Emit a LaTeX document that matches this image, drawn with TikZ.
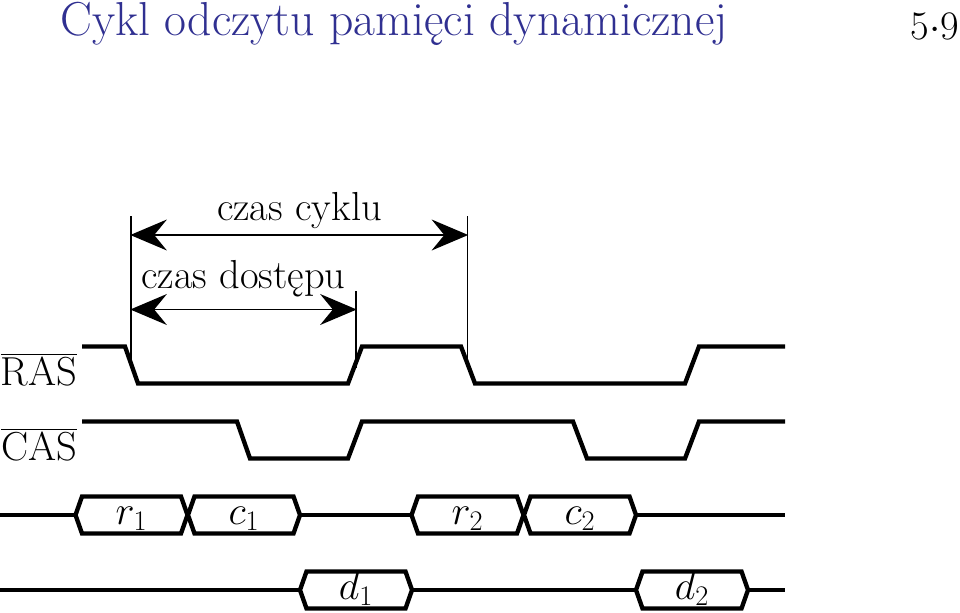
\RequirePackage{fix-cm}
\documentclass[tikz,border=0pt]{standalone}
\usetikzlibrary{arrows.meta}
\definecolor{titleblue}{RGB}{48,48,145}
\tikzset{
  wave/.style={line width=3.1pt,line join=miter},
  guide/.style={line width=1.4pt},
  span/.style={line width=1.4pt,{Stealth[length=26pt,width=22pt,inset=9pt]}-{Stealth[length=26pt,width=22pt,inset=9pt]},shorten <=-0.5pt,shorten >=-0.5pt},
  sig/.style={anchor=base,inner sep=0pt,font=\fontsize{28.8}{34}\selectfont},
}
% one cell of the address/data bus: name, left tip, centre line, text
\newcommand{\buscell}[4]{
  \coordinate (#1l) at (#2,#3);
  \coordinate (#1r) at (#2+112,#3);
  \draw[wave] (#1l) -- (#2+6.5,#3-18.5) -- (#2+105.5,#3-18.5) -- (#1r) -- (#2+105.5,#3+18.5) -- (#2+6.5,#3+18.5) -- cycle;
  \node[sig] (#1) at (#2+56,#3+9) {#4};
}
\begin{document}
\begin{tikzpicture}[x=0.025cm,y=-0.025cm]
  \useasboundingbox (0,0) rectangle (960,612);
  \node[anchor=base west,inner sep=0pt,text=titleblue,font=\fontsize{33.9}{40}\selectfont] (title) at (60,35.5) {Cykl odczytu pamięci dynamicznej};
  \node[anchor=base east,inner sep=0pt,font=\fontsize{28.8}{34}\selectfont] (page) at (959.5,39) {5$\cdot$9};
  % time marks
  \coordinate (ctop) at (131,216);
  \coordinate (cbot) at (131,368);
  \coordinate (atop) at (356,291);
  \coordinate (abot) at (356,368);
  \coordinate (etop) at (467.5,216);
  \coordinate (ebot) at (467.5,368);
  \draw[guide] (ctop) -- (cbot);
  \draw[guide] (atop) -- (abot);
  \draw[guide] (etop) -- (ebot);
  \coordinate (c1) at (131,235);
  \coordinate (e1) at (467.5,235);
  \coordinate (c2) at (131,309.5);
  \coordinate (a2) at (356,309.5);
  \draw[span] (c1) -- (e1);
  \draw[span] (c2) -- (a2);
  \node[sig] (cycle) at (299.5,220) {czas cyklu};
  \node[sig] (access) at (243.5,288) {czas dostępu};
  % RAS and CAS
  \node[sig] (ras) at (39,385) {$\overline{\mbox{RAS}}$};
  \node[sig] (cas) at (39,460) {$\overline{\mbox{CAS}}$};
  \draw[wave] (82,346.5) -- (125,346.5) -- (138,383.5) -- (348,383.5) -- (362,346.5) -- (461,346.5) -- (475,383.5) -- (685,383.5) -- (699,346.5) -- (785,346.5);
  \draw[wave] (82,421.5) -- (237,421.5) -- (250,458.5) -- (348,458.5) -- (362,421.5) -- (573,421.5) -- (587,458.5) -- (685,458.5) -- (699,421.5) -- (785,421.5);
  % bus
  \buscell{r1}{75.5}{515}{$r_1$}
  \buscell{k1}{188}{515}{$c_1$}
  \buscell{r2}{411.5}{515}{$r_2$}
  \buscell{k2}{524}{515}{$c_2$}
  \buscell{d1}{300}{590}{$d_1$}
  \buscell{d2}{636}{590}{$d_2$}
  \coordinate (as) at (0,515);
  \coordinate (ae) at (785,515);
  \coordinate (ds) at (0,590);
  \coordinate (de) at (785,590);
  \draw[wave] (as) -- (r1l);
  \draw[wave] (k1r) -- (r2l);
  \draw[wave] (k2r) -- (ae);
  \draw[wave] (ds) -- (d1l);
  \draw[wave] (d1r) -- (d2l);
  \draw[wave] (d2r) -- (de);
\end{tikzpicture}
\end{document}
